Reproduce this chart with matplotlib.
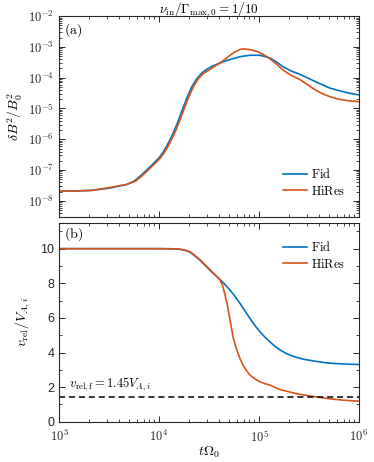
import numpy as np
import matplotlib
matplotlib.use("Agg")
import matplotlib.pyplot as plt
from matplotlib.ticker import LogLocator, MultipleLocator, NullFormatter, FuncFormatter

plt.rcParams['mathtext.fontset'] = 'cm'
plt.rcParams['font.family'] = ['Liberation Sans', 'DejaVu Sans']

# datos (log10 del tiempo)
# panel (a): log10(dB^2/B0^2)
logt_fid_a = [3.0, 3.15, 3.33, 3.5, 3.6, 3.67, 3.75, 3.81, 3.87, 3.94, 4.0, 4.04, 4.08, 4.13,
              4.18, 4.23, 4.28, 4.33, 4.38, 4.43, 4.48, 4.53, 4.58, 4.66, 4.74, 4.82, 4.91,
              5.01, 5.11, 5.17, 5.24, 5.32, 5.41, 5.5, 5.6, 5.71, 5.8, 5.9, 6.0]
logB_fid = [-7.69, -7.68, -7.66, -7.59, -7.52, -7.48, -7.36, -7.20, -7.02, -6.80, -6.60, -6.42,
            -6.20, -5.88, -5.50, -5.06, -4.64, -4.28, -4.02, -3.84, -3.72, -3.63, -3.56, -3.46,
            -3.38, -3.31, -3.27, -3.27, -3.36, -3.48, -3.64, -3.78, -3.89, -4.03, -4.18, -4.34,
            -4.42, -4.50, -4.56]

logt_hi_a = [3.0, 3.15, 3.33, 3.5, 3.6, 3.67, 3.765, 3.825, 3.885, 3.955, 4.015, 4.055, 4.095,
             4.145, 4.195, 4.245, 4.295, 4.345, 4.395, 4.445, 4.5, 4.56, 4.61, 4.66, 4.71,
             4.76, 4.81, 4.85, 4.89, 4.94, 4.99, 5.04, 5.09, 5.16, 5.24, 5.32, 5.41, 5.54,
             5.62, 5.71, 5.8, 5.9, 6.0]
logB_hi = [-7.69, -7.68, -7.66, -7.57, -7.51, -7.47, -7.36, -7.20, -7.02, -6.80, -6.60, -6.42,
           -6.20, -5.88, -5.50, -5.06, -4.64, -4.28, -4.02, -3.86, -3.75, -3.62, -3.52, -3.40,
           -3.27, -3.16, -3.08, -3.06, -3.08, -3.11, -3.16, -3.24, -3.34, -3.52, -3.75, -3.92,
           -4.06, -4.35, -4.50, -4.62, -4.70, -4.75, -4.78]

# panel (b): v_rel / V_A,i
logt_fid_b = [3.0, 3.5, 4.0, 4.15, 4.21, 4.26, 4.31, 4.36, 4.41, 4.46, 4.51, 4.56, 4.61, 4.66,
              4.71, 4.76, 4.81, 4.86, 4.91, 4.96, 5.01, 5.06, 5.11, 5.16, 5.21, 5.28, 5.36,
              5.44, 5.56, 5.68, 5.84, 6.0]
v_fid = [10.0, 10.0, 10.0, 9.99, 9.96, 9.9, 9.8, 9.57, 9.33, 9.04, 8.75, 8.48, 8.21, 7.92,
         7.6, 7.24, 6.83, 6.40, 5.96, 5.55, 5.19, 4.88, 4.61, 4.36, 4.15, 3.92, 3.75,
         3.62, 3.50, 3.40, 3.34, 3.31]

logt_hi_b = [3.0, 3.5, 4.0, 4.15, 4.21, 4.26, 4.31, 4.36, 4.41, 4.46, 4.51, 4.56, 4.61, 4.64,
             4.66, 4.68, 4.695, 4.71, 4.725, 4.74, 4.765, 4.79, 4.815, 4.84, 4.875, 4.91,
             4.96, 5.01, 5.06, 5.11, 5.2, 5.3, 5.38, 5.5, 5.61, 5.72, 5.84, 6.0]
v_hi = [10.0, 10.0, 10.0, 9.99, 9.97, 9.92, 9.82, 9.6, 9.36, 9.07, 8.78, 8.5, 8.21, 7.79,
        7.3, 6.83, 6.35, 5.87, 5.38, 4.9, 4.38, 3.94, 3.58, 3.27, 2.95, 2.69,
        2.47, 2.31, 2.2, 2.12, 1.88, 1.73, 1.62, 1.50, 1.41, 1.32, 1.25, 1.19]

v_rel_f = 1.45

azul = '#0072BD'
naranja = '#D95319'

fig = plt.figure(figsize=(3.74, 4.62), dpi=100)
ax1 = fig.add_axes([0.158, 0.530, 0.802, 0.435])
ax2 = fig.add_axes([0.158, 0.087, 0.802, 0.431])

# panel (a)
ax1.plot(10 ** np.array(logt_fid_a), 10 ** np.array(logB_fid), color=azul, lw=1.2, label=r'$\mathrm{Fid}$')
ax1.plot(10 ** np.array(logt_hi_a), 10 ** np.array(logB_hi), color=naranja, lw=1.2, label=r'$\mathrm{HiRes}$')
ax1.set_xscale('log')
ax1.set_yscale('log')
ax1.set_xlim(1e3, 1e6)
ax1.set_ylim(10 ** -8.53, 1e-2)
ax1.set_yticks([1e-8, 1e-7, 1e-6, 1e-5, 1e-4, 1e-3, 1e-2])
ax1.yaxis.set_major_formatter(FuncFormatter(lambda v, p: r'$\mathsf{10^{%d}}$' % round(np.log10(v))))
ax1.xaxis.set_major_formatter(NullFormatter())
ax1.xaxis.set_minor_formatter(NullFormatter())
ax1.yaxis.set_minor_formatter(NullFormatter())
ax1.set_ylabel(r'$\delta B^2/B_0^2$', fontsize=10, labelpad=2)
# titulo colocado a mano para que no se corte arriba
fig.text(0.558, 0.972, r'$\nu_{\rm in}/\Gamma_{\rm max,0} = 1/10$', fontsize=9.5,
         ha='center', va='baseline')
ax1.text(0.015, 0.975, r'$\mathrm{(a)}$', transform=ax1.transAxes, fontsize=10, va='top', ha='left')
ax1.legend(loc='lower right', bbox_to_anchor=(0.99, 0.04), frameon=False, fontsize=9,
           handlelength=1.9, handletextpad=0.3, labelspacing=0.3)

# panel (b)
ax2.plot(10 ** np.array(logt_fid_b), v_fid, color=azul, lw=1.2, label=r'$\mathrm{Fid}$')
ax2.plot(10 ** np.array(logt_hi_b), v_hi, color=naranja, lw=1.2, label=r'$\mathrm{HiRes}$')
ax2.axhline(v_rel_f, color='k', ls=(0, (4, 2.5)), lw=1.1)
ax2.text(1.25e3, v_rel_f + 0.2, r'$v_{\rm rel,f} = 1.45 V_{A,i}$', fontsize=9, va='bottom')
ax2.set_xscale('log')
ax2.set_xlim(1e3, 1e6)
ax2.set_ylim(0, 11.5)
ax2.yaxis.set_major_locator(MultipleLocator(2))
ax2.yaxis.set_minor_locator(MultipleLocator(1))
ax2.xaxis.set_major_formatter(FuncFormatter(lambda v, p: r'$\mathsf{10^{%d}}$' % round(np.log10(v))))
ax2.xaxis.set_minor_formatter(NullFormatter())
ax2.set_xlabel(r'$t\Omega_0$', fontsize=10, labelpad=0)
ax2.set_ylabel(r'$v_{\rm rel}/V_{A,i}$', fontsize=10, labelpad=6)
ax2.text(0.015, 0.985, r'$\mathrm{(b)}$', transform=ax2.transAxes, fontsize=10, va='top', ha='left')
ax2.legend(loc='upper right', bbox_to_anchor=(0.99, 0.97), frameon=False, fontsize=9,
           handlelength=1.9, handletextpad=0.3, labelspacing=0.3)

for ax in (ax1, ax2):
    ax.xaxis.set_major_locator(LogLocator(base=10, numticks=10))
    ax.xaxis.set_minor_locator(LogLocator(base=10, subs=np.arange(2, 10), numticks=10))
    ax.tick_params(which='both', direction='in', top=True, right=True, labelsize=9, colors='#262626')
    ax.tick_params(which='major', length=4, width=0.7)
    ax.tick_params(which='minor', length=2.2, width=0.6)
    for s in ax.spines.values():
        s.set_linewidth(0.8)
        s.set_color('#262626')
ax1.yaxis.set_minor_locator(LogLocator(base=10, subs=np.arange(2, 10), numticks=12))
ax2.tick_params(axis='x', which='major', pad=5)

fig.savefig('out.png', dpi=100)
